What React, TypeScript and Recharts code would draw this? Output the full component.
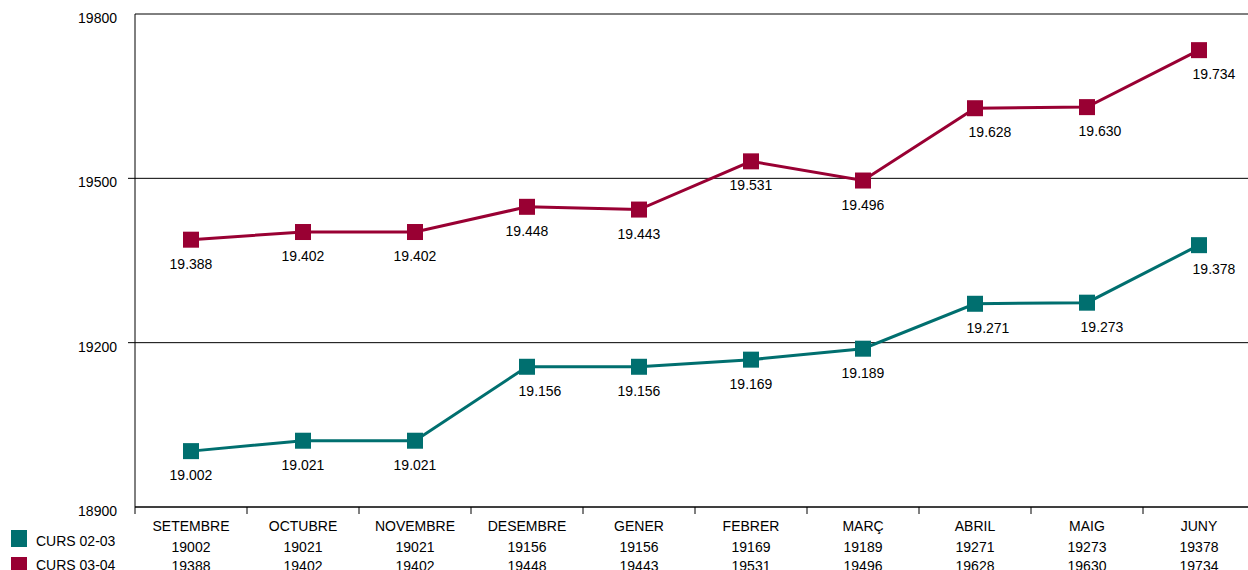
import React from 'react';
import { LineChart, Line, XAxis, YAxis, CartesianGrid, LabelList } from 'recharts';

const months = ['SETEMBRE', 'OCTUBRE', 'NOVEMBRE', 'DESEMBRE', 'GENER', 'FEBRER', 'MARÇ', 'ABRIL', 'MAIG', 'JUNY'];
const curs0203 = [19002, 19021, 19021, 19156, 19156, 19169, 19189, 19271, 19273, 19378];
const curs0304 = [19388, 19402, 19402, 19448, 19443, 19531, 19496, 19628, 19630, 19734];
const yTicks = [18900, 19200, 19500, 19800];

const seriesNames = ['CURS 02-03', 'CURS 03-04'];
const TEAL = '#006f6f';
const WINE = '#990033';

// horizontal nudge of the value labels (style only)
const shift0203 = [0, 0, 0, 13, 0, 0, 0, 13, 15, 15];
const shift0304 = [0, 0, 0, 0, 0, 0, 0, 15, 13, 15];

const FONT = '"Liberation Sans", Arial, sans-serif';
const BAND = 112;

const data = months.map((m, i) => ({ month: m, a: curs0203[i], b: curs0304[i] }));

const XTick = (props: any) => {
  const { x, payload, index } = props;
  const i = index ?? months.indexOf(payload.value);
  const y = props.y - 8; // axis line position
  return (
    <g>
      <line x1={x - BAND / 2} x2={x - BAND / 2} y1={y} y2={y + 7} stroke="#000" />
      {i === months.length - 1 && (
        <line x1={x + BAND / 2} x2={x + BAND / 2} y1={y} y2={y + 7} stroke="#000" />
      )}
      <text x={x} y={y + 24} textAnchor="middle" fontSize={14} fill="#000" fontFamily={FONT}>
        {payload.value}
      </text>
      <text x={x} y={y + 45} textAnchor="middle" fontSize={14} fill="#000" fontFamily={FONT}>
        {curs0203[i]}
      </text>
      <text x={x} y={y + 64} textAnchor="middle" fontSize={14} fill="#000" fontFamily={FONT}>
        {curs0304[i]}
      </text>
    </g>
  );
};

const YTick = (props: any) => {
  const { y, payload } = props;
  const inner = payload.value !== 18900 && payload.value !== 19800;
  return (
    <g>
      {inner && <line x1={135 - 7} x2={135} y1={y} y2={y} stroke="#000" />}
      <text x={117} y={y + 9} textAnchor="end" fontSize={14} fill="#000" fontFamily={FONT}>
        {payload.value}
      </text>
    </g>
  );
};

const makeLabel = (shifts: number[]) => (props: any) => {
  const { x, y, value, index } = props;
  return (
    <text x={x + (shifts[index] || 0)} y={y + 29} textAnchor="middle" fontSize={14} fill="#000" fontFamily={FONT}>
      {(value / 1000).toFixed(3)}
    </text>
  );
};

const makeDot = (color: string) => (props: any) => {
  const { cx, cy, index } = props;
  return <rect key={`d-${index}`} x={cx - 8} y={cy - 8} width={16} height={16} fill={color} />;
};

export default function App() {
  return (
    <div style={{ position: 'absolute', left: 0, top: 0, width: 1248, height: 570, overflow: 'hidden', background: '#fff' }}>
      <LineChart width={1256} height={570} data={data} margin={{ top: 14, right: 1, left: 0, bottom: 0 }}>
        <CartesianGrid vertical={false} stroke="#000" />
        <XAxis
          dataKey="month"
          padding={{ left: 56, right: 56 }}
          axisLine={{ stroke: '#000' }}
          tickLine={false}
          tick={<XTick />}
          interval={0}
          height={63}
        />
        <YAxis
          width={135}
          domain={[18900, 19800]}
          ticks={yTicks}
          axisLine={{ stroke: '#000' }}
          tickLine={false}
          tick={<YTick />}
          interval={0}
        />
        <Line dataKey="a" name={seriesNames[0]} stroke={TEAL} strokeWidth={3} dot={makeDot(TEAL)} isAnimationActive={false}>
          <LabelList dataKey="a" content={makeLabel(shift0203)} />
        </Line>
        <Line dataKey="b" name={seriesNames[1]} stroke={WINE} strokeWidth={3} dot={makeDot(WINE)} isAnimationActive={false}>
          <LabelList dataKey="b" content={makeLabel(shift0304)} />
        </Line>
      </LineChart>
      {[TEAL, WINE].map((c, i) => (
        <React.Fragment key={c}>
          <div style={{ position: 'absolute', left: 11, top: i === 0 ? 530 : 557, width: 16, height: 17, background: c }} />
          <div
            style={{
              position: 'absolute',
              left: 36,
              top: i === 0 ? 533 : 557,
              lineHeight: '16px',
              fontSize: 14,
              fontFamily: FONT,
              color: '#000',
              whiteSpace: 'nowrap',
            }}
          >
            {seriesNames[i]}
          </div>
        </React.Fragment>
      ))}
    </div>
  );
}
